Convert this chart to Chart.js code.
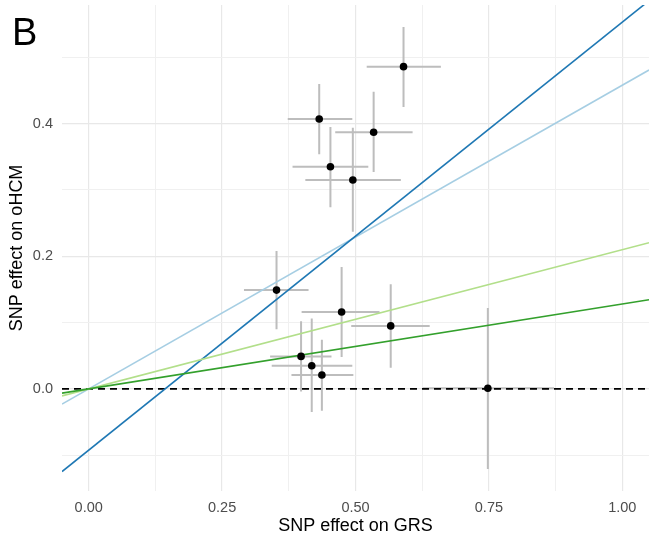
<!DOCTYPE html>
<html>
<head>
<meta charset="utf-8">
<script src="https://cdn.jsdelivr.net/npm/chart.js@4"></script>
<style>
  body{ margin:0; background:#fff; }
  #wrap{ position:relative; width:649px; height:542px; }
  #panelLabel{ position:absolute; left:12px; top:13px; font-family:'Liberation Sans', Arial, sans-serif; font-size:38px; line-height:1; color:#000; }
</style>
</head>
<body>
<div id="wrap">
  <canvas id="chart" width="649" height="542"></canvas>
  <div id="panelLabel">B</div>
</div>
<script>
// SNP estimates (x = effect on GRS, y = effect on oHCM) with their intervals
const snpX   = [0.590, 0.432, 0.534, 0.453, 0.495, 0.352, 0.474, 0.566, 0.398, 0.418, 0.437, 0.748];
const snpY   = [0.486, 0.407, 0.387, 0.335, 0.315, 0.149, 0.116, 0.095, 0.049, 0.035, 0.021, 0.001];
const snpXLo = [0.521, 0.373, 0.462, 0.382, 0.406, 0.291, 0.399, 0.492, 0.340, 0.343, 0.380, 0.626];
const snpXHi = [0.660, 0.494, 0.607, 0.524, 0.585, 0.412, 0.545, 0.639, 0.455, 0.494, 0.496, 0.872];
const snpYLo = [0.425, 0.354, 0.327, 0.274, 0.237, 0.090, 0.048, 0.032, -0.004, -0.035, -0.033, -0.121];
const snpYHi = [0.546, 0.460, 0.448, 0.395, 0.394, 0.208, 0.184, 0.158, 0.102, 0.106, 0.074, 0.122];

// MR fit lines
const fitColors     = ['#a6cee3', '#1f78b4', '#b2df8a', '#33a02c'];
const fitSlopes     = [0.458, 0.6456, 0.210, 0.128];
const fitIntercepts = [0, -0.0924, 0, 0];

// axes
const xMin = -0.05, xMax = 1.05;
const yMin = -0.154, yMax = 0.579;
const xTicks = [0, 0.25, 0.5, 0.75, 1];
const xMinor = [0.125, 0.375, 0.625, 0.875];
const yTicks = [0, 0.2, 0.4];
const yMinor = [-0.1, 0.1, 0.3, 0.5];

Chart.defaults.font.family = "'Liberation Sans', Arial, sans-serif";

const datasets = [];

datasets.push({
  type: 'scatter',
  data: snpX.map((x, i) => ({x: x, y: snpY[i]})),
  backgroundColor: '#000',
  borderWidth: 0,
  pointRadius: 3.8
});

// later fits on top, as in the original
for(let i = fitSlopes.length - 1; i >= 0; i--){
  datasets.push({
    type: 'line',
    data: [xMin, xMax].map(x => ({x: x, y: fitIntercepts[i] + fitSlopes[i] * x})),
    borderColor: fitColors[i],
    borderWidth: 1.6,
    pointRadius: 0,
    fill: false
  });
}

datasets.push({
  type: 'line',
  data: [{x: xMin, y: 0}, {x: xMax, y: 0}],
  borderColor: '#000',
  borderWidth: 1.8,
  borderDash: [7, 5],
  pointRadius: 0,
  fill: false
});

// gray crosshair intervals under everything else
const errorBars = {
  id: 'errorBars',
  beforeDatasetsDraw(chart){
    const {ctx, scales: {x, y}, chartArea} = chart;
    ctx.save();
    ctx.beginPath();
    ctx.rect(chartArea.left, chartArea.top, chartArea.right - chartArea.left, chartArea.bottom - chartArea.top);
    ctx.clip();
    ctx.strokeStyle = '#bdbdbd';
    ctx.lineWidth = 2;
    snpX.forEach((v, i) => {
      const px = x.getPixelForValue(v), py = y.getPixelForValue(snpY[i]);
      ctx.beginPath();
      ctx.moveTo(x.getPixelForValue(snpXLo[i]), py);
      ctx.lineTo(x.getPixelForValue(snpXHi[i]), py);
      ctx.moveTo(px, y.getPixelForValue(snpYLo[i]));
      ctx.lineTo(px, y.getPixelForValue(snpYHi[i]));
      ctx.stroke();
    });
    ctx.restore();
  }
};

function setTicks(major, minor){
  return scale => {
    scale.ticks = major.concat(minor).sort((a, b) => a - b).map(v => ({value: v}));
  };
}

// fixed axis boxes, no extra label padding around the panel
function fixBox(size, horizontal){
  return s => {
    if(horizontal) s.height = size; else s.width = size;
    s.paddingTop = s.paddingBottom = s.paddingLeft = s.paddingRight = 0;
  };
}

new Chart(document.getElementById('chart'), {
  data: { datasets: datasets },
  options: {
    responsive: false,
    animation: false,
    layout: { autoPadding: false, padding: {top: 5, right: 0, bottom: 0, left: 0} },
    plugins: { legend: {display: false}, tooltip: {enabled: false} },
    scales: {
      x: {
        type: 'linear', min: xMin, max: xMax,
        afterBuildTicks: setTicks(xTicks, xMinor),
        afterFit: fixBox(51, true),
        border: {display: false},
        grid: {
          drawTicks: false,
          color: c => xMinor.includes(c.tick.value) ? '#f0f0f0' : '#e8e8e8',
          lineWidth: c => xMinor.includes(c.tick.value) ? 1 : 1.2
        },
        ticks: {
          autoSkip: false, maxRotation: 0, padding: 8,
          color: '#4d4d4d', font: {size: 14.5},
          callback: v => xTicks.includes(v) ? v.toFixed(2) : ''
        },
        title: {display: true, text: 'SNP effect on GRS', color: '#000', font: {size: 18}, padding: {top: 0, bottom: 5}}
      },
      y: {
        type: 'linear', min: yMin, max: yMax,
        afterBuildTicks: setTicks(yTicks, yMinor),
        afterFit: fixBox(62, false),
        border: {display: false},
        grid: {
          drawTicks: false,
          color: c => yMinor.includes(c.tick.value) ? '#f0f0f0' : '#e8e8e8',
          lineWidth: c => yMinor.includes(c.tick.value) ? 1 : 1.2
        },
        ticks: {
          autoSkip: false, padding: 9,
          color: '#4d4d4d', font: {size: 14.5},
          callback: v => yTicks.includes(v) ? v.toFixed(1) : ''
        },
        title: {display: true, text: 'SNP effect on oHCM', color: '#000', font: {size: 18}, padding: {top: 6, bottom: 0}}
      }
    }
  },
  plugins: [errorBars]
});
</script>
</body>
</html>
